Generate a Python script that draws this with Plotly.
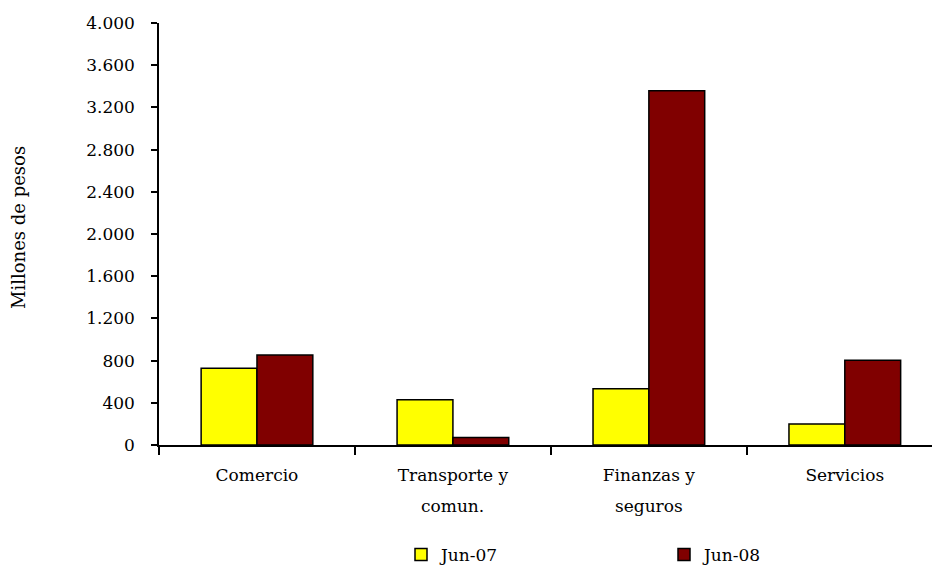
import plotly.graph_objects as go

categories = ["Comercio", "Transporte y comun.", "Finanzas y seguros", "Servicios"]
label_line1 = ["Comercio", "Transporte y", "Finanzas y", "Servicios"]
label_line2 = ["", "comun.", "seguros", ""]
jun07 = [728, 428, 534, 200]
jun08 = [853, 72, 3358, 803]
y_ticks = [0, 400, 800, 1200, 1600, 2000, 2400, 2800, 3200, 3600, 4000]

FONT = "DejaVu Serif"
W, H = 932, 566
L, T, B = 159, 23, 566 - 445
PH = H - T - B
PW = W - L


def py(pix):
    return (445 - pix) / PH


fig = go.Figure()
fig.add_trace(go.Bar(x=categories, y=jun07, name="Jun-07",
                     marker=dict(color="#FFFF00", line=dict(color="black", width=1.5))))
fig.add_trace(go.Bar(x=categories, y=jun08, name="Jun-08",
                     marker=dict(color="#800000", line=dict(color="black", width=1.5))))

annotations = [
    dict(text="Millones de pesos", xref="paper", yref="paper", x=(19 - 159) / PW, y=py(228),
         textangle=-90, showarrow=False, font=dict(family=FONT, size=18),
         xanchor="center", yanchor="middle")
]
for c, l2 in zip(categories, label_line2):
    if l2:
        annotations.append(dict(text=l2, xref="x", yref="paper", x=c, y=py(506),
                                showarrow=False, font=dict(family=FONT, size=17),
                                xanchor="center", yanchor="middle"))

fig.update_layout(
    width=W, height=H,
    margin=dict(l=L, r=0, t=T, b=B, autoexpand=False),
    paper_bgcolor="white", plot_bgcolor="white",
    barmode="group", bargap=0.43, bargroupgap=0,
    separators=",.",
    font=dict(family=FONT, size=17, color="black"),
    showlegend=True,
    legend=dict(orientation="h", x=(401 - 159) / PW, xanchor="left",
                y=py(555), yanchor="middle",
                entrywidth=218, entrywidthmode="pixels", itemwidth=30,
                font=dict(family=FONT, size=17)),
    annotations=annotations,
    xaxis=dict(type="category", range=[-0.5, 3.445], showline=True, linecolor="black",
               linewidth=1.5, ticks="outside", tickson="boundaries", ticklen=8,
               tickcolor="black", tickwidth=1.5, showgrid=False, automargin=False,
               tickvals=categories, ticktext=label_line1, ticklabelstandoff=14,
               tickfont=dict(family=FONT, size=17)),
    yaxis=dict(range=[0, 4000], tickvals=y_ticks, tickformat=",.0f", showline=True,
               linecolor="black", linewidth=1.5, ticks="outside", ticklen=6,
               tickcolor="black", tickwidth=1.5, showgrid=False, zeroline=False,
               automargin=False, ticklabelstandoff=13,
               tickfont=dict(family=FONT, size=17)),
)

fig.write_html("out.html",
               config={"displayModeBar": False},
               post_script="document.body.style.margin='0';document.body.style.overflow='hidden';")
